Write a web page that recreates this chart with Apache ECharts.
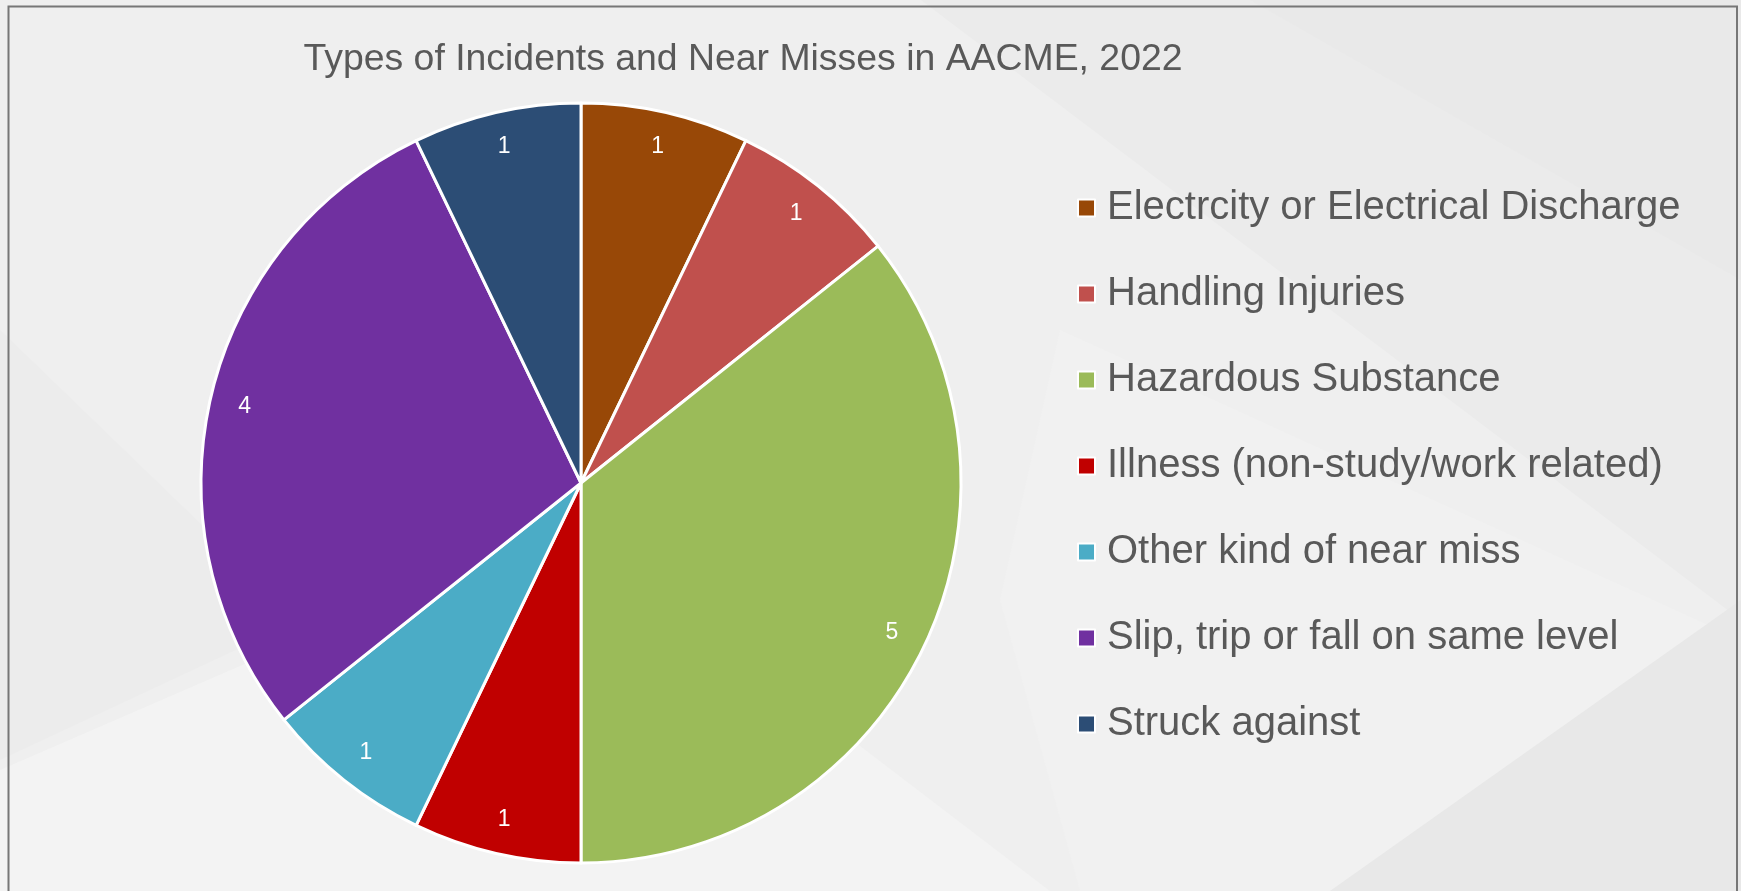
<!DOCTYPE html>
<html>
<head>
<meta charset="utf-8">
<title>Types of Incidents and Near Misses in AACME, 2022</title>
<script src="https://cdn.jsdelivr.net/npm/echarts@6/dist/echarts.min.js"></script>
<style>
  html, body { margin: 0; padding: 0; background: #eeeeee; }
  #chart { width: 1741px; height: 891px; }
</style>
</head>
<body>
<div id="chart"></div>
<script>
// Incident categories and their counts for 2022
const categories = [
  'Electrcity or Electrical Discharge',
  'Handling Injuries',
  'Hazardous Substance',
  'Illness (non-study/work related)',
  'Other kind of near miss',
  'Slip, trip or fall on same level',
  'Struck against'
];
const counts = [1, 1, 5, 1, 1, 4, 1];
const sliceColors = ['#984807', '#c0504d', '#9bbb59', '#c00000', '#4bacc6', '#7030a0', '#2c4d75'];
const chartTitle = 'Types of Incidents and Near Misses in AACME, 2022';

const pieData = categories.map((name, i) => ({
  name: name,
  value: counts[i],
  itemStyle: { color: sliceColors[i] }
}));

const FONT = '"Liberation Sans", Arial, Helvetica, sans-serif';
const CENTER = [581, 483];
const R = 380;

const chart = echarts.init(document.getElementById('chart'), null, { renderer: 'canvas' });

// Soft geometric backdrop panels
const panels = [
  { pts: [[0, 0], [1741, 0], [1741, 891], [0, 891]], fill: '#efefef' },
  { pts: [[921, 0], [1741, 0], [1741, 620]], fill: '#ebebeb' },
  { pts: [[1250, 0], [1741, 0], [1741, 280]], fill: '#e9e9e9' },
  { pts: [[0, 330], [300, 620], [0, 760]], fill: '#ececec' },
  { pts: [[0, 891], [0, 770], [300, 640], [800, 700], [1050, 891]], fill: '#f3f3f3' },
  { pts: [[1060, 330], [1741, 640], [1330, 891], [1080, 891], [1000, 600]], fill: '#f1f1f1' },
  { pts: [[1330, 891], [1741, 600], [1741, 891]], fill: '#e8e8e8' }
];

const graphics = panels.map(p => ({
  type: 'polygon',
  silent: true,
  z: -10,
  shape: { points: p.pts },
  style: { fill: p.fill }
}));

// Chart frame
graphics.push({
  type: 'rect',
  silent: true,
  z: -5,
  shape: { x: 8.5, y: 6.5, width: 1728.5, height: 900 },
  style: { fill: 'none', stroke: '#777777', lineWidth: 2 }
});

const option = {
  animation: false,
  backgroundColor: '#eeeeee',
  graphic: graphics,
  title: {
    text: chartTitle,
    left: 743,
    top: 41,
    textAlign: 'center',
    padding: 0,
    textStyle: {
      fontFamily: FONT,
      fontSize: 37.4,
      fontWeight: 'normal',
      color: '#595959',
      lineHeight: 37
    }
  },
  legend: {
    orient: 'vertical',
    left: 1077,
    top: 188,
    padding: 0,
    itemGap: 46,
    itemWidth: 17,
    itemHeight: 17,
    icon: 'rect',
    data: categories,
    itemStyle: { borderColor: '#ffffff', borderWidth: 2 },
    textStyle: {
      fontFamily: FONT,
      fontSize: 40,
      color: '#595959',
      lineHeight: 40,
      padding: [0, 0, 0, 7]
    }
  },
  series: [
    {
      type: 'pie',
      center: CENTER,
      radius: [0, R],
      startAngle: 90,
      clockwise: true,
      data: pieData,
      itemStyle: { borderColor: '#ffffff', borderWidth: 3 },
      label: { show: false },
      labelLine: { show: false },
      emphasis: { disabled: true }
    },
    {
      // Transparent outer ring carrying the value labels near the rim
      type: 'pie',
      center: CENTER,
      radius: [R * 0.8, R],
      startAngle: 90,
      clockwise: true,
      silent: true,
      data: categories.map((name, i) => ({ name: name, value: counts[i] })),
      itemStyle: { color: 'rgba(0,0,0,0)', borderWidth: 0 },
      label: {
        show: true,
        position: 'inside',
        formatter: '{c}',
        fontFamily: FONT,
        fontSize: 23,
        color: '#ffffff'
      },
      labelLine: { show: false },
      emphasis: { disabled: true }
    }
  ]
};

chart.setOption(option);
</script>
</body>
</html>
